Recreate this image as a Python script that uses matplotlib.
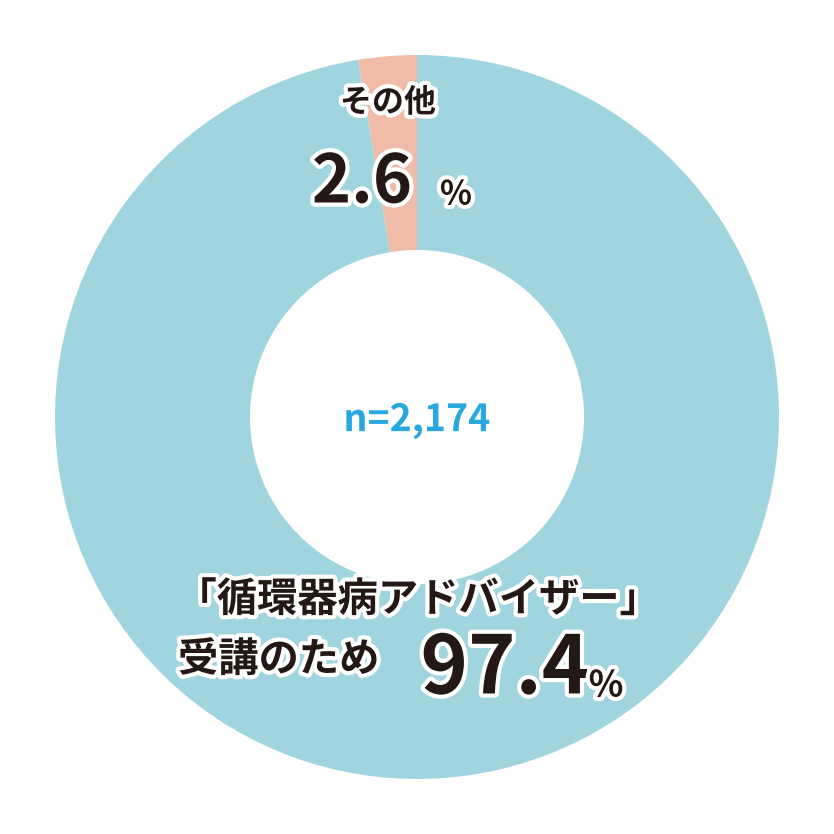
import matplotlib
matplotlib.use("Agg")
import matplotlib.pyplot as plt
import matplotlib.patheffects as pe

labels = ["その他", "「循環器病アドバイザー」受講のため"]
values = [2.6, 97.4]
colors = ["#f0bca8", "#a0d5e0"]
n_label = "n=2,174"

plt.rcParams['font.family'] = ['Noto Sans CJK JP', 'DejaVu Sans']
fig = plt.figure(figsize=(8.34, 8.34), dpi=100)
ax = fig.add_axes([0, 0, 1, 1])
ax.pie(values, colors=colors, startangle=90, counterclock=True, radius=362,
       wedgeprops=dict(width=362-167, edgecolor='none'))
ax.set_xlim(-417, 417); ax.set_ylim(-417, 417); ax.set_aspect('equal'); ax.axis('off')

dark = "#231815"
st = [pe.withStroke(linewidth=6, foreground='white')]
def T(x, y, s, size, color=dark, ha='center'):
    ax.text(x-417, 417-y, s, fontsize=size, fontweight='bold', color=color,
            ha=ha, va='center', path_effects=st)

T(388, 103, labels[0], 23)
T(362, 183, f"{values[0]}", 48)
T(456, 195, "%", 24)
T(417, 420, n_label, 27, color="#29a8e0")
T(418, 600, "「循環器病アドバイザー」", 29)
T(178, 660, "受講のため", 29, ha='left')
T(505, 670, f"{values[1]}", 58)
T(606, 686, "%", 26)
fig.savefig("out.png", dpi=100)
